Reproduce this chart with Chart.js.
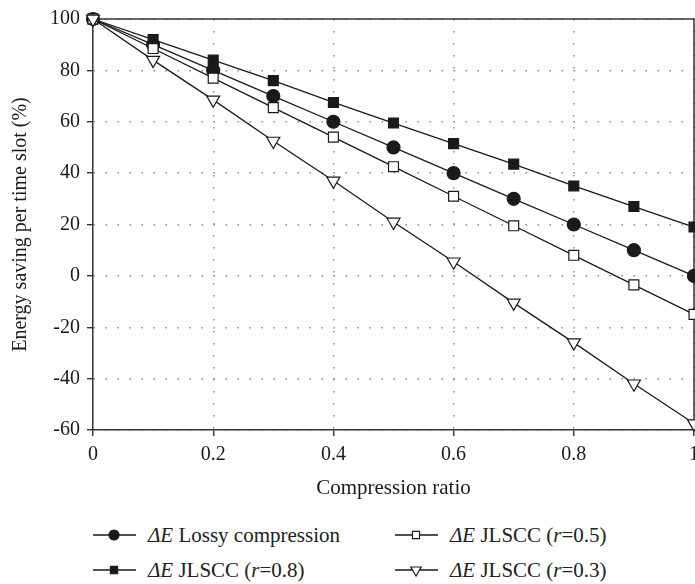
<!DOCTYPE html>
<html>
<head>
<meta charset="utf-8">
<script src="https://cdn.jsdelivr.net/npm/chart.js@4/dist/chart.umd.min.js"></script>
<style>
  html, body { margin: 0; padding: 0; background: #fff; overflow: hidden; }
  #wrap { position: relative; width: 720px; height: 584px; }
  #chart { position: absolute; left: 0; top: 0; }
  .item { position: absolute; display: flex; align-items: center; height: 24px;
          font-family: "Liberation Serif", "DejaVu Serif", serif; font-size: 21px; color: #222; white-space: nowrap; }
  .item canvas { margin-right: 11px; }
</style>
</head>
<body>
<div id="wrap">
  <canvas id="chart" width="720" height="512"></canvas>
</div>
<script>
// Compression ratio on the x axis
const ratios = [0, 0.1, 0.2, 0.3, 0.4, 0.5, 0.6, 0.7, 0.8, 0.9, 1];

// Energy saving per time slot (%)
const lossy = [100, 90, 80, 70, 60, 50, 40, 30, 20, 10, 0];
const jlsccR08 = [100, 92, 84, 76, 67.5, 59.5, 51.5, 43.5, 35, 27, 19];
const jlsccR05 = [100, 88.5, 77, 65.5, 54, 42.5, 31, 19.5, 8, -3.5, -15];
const jlsccR03 = [100, 84, 68.5, 52.5, 37, 21, 5.5, -10.5, -26, -42, -57.5];

const seriesNames = ['Lossy compression', 'JLSCC (r=0.8)', 'JLSCC (r=0.5)', 'JLSCC (r=0.3)'];

const yTicks = [-60, -40, -20, 0, 20, 40, 60, 80, 100];
const xTicks = [0, 0.2, 0.4, 0.6, 0.8, 1];

const SERIF = '"Liberation Serif", "DejaVu Serif", serif';
const INK = '#1a1a1a';

function pts(values) {
  return ratios.map((x, i) => ({ x: x, y: values[i] }));
}

const styles = [
  { pointStyle: 'circle', pointRadius: 6.5, pointBackgroundColor: INK, rotation: 0, legendRadius: 5 },
  { pointStyle: 'rect', pointRadius: 7, pointBackgroundColor: INK, rotation: 0, legendRadius: 5 },
  { pointStyle: 'rect', pointRadius: 7, pointBackgroundColor: '#fff', rotation: 0, legendRadius: 5 },
  { pointStyle: 'triangle', pointRadius: 7.5, pointBackgroundColor: '#fff', rotation: 180, legendRadius: 6 }
];
const seriesValues = [lossy, jlsccR08, jlsccR05, jlsccR03];

const datasets = seriesValues.map((vals, i) => ({
  label: seriesNames[i],
  data: pts(vals),
  borderColor: INK,
  borderWidth: 1.3,
  pointStyle: styles[i].pointStyle,
  pointRadius: styles[i].pointRadius,
  pointHoverRadius: styles[i].pointRadius,
  pointRotation: styles[i].rotation,
  pointBackgroundColor: styles[i].pointBackgroundColor,
  pointBorderColor: INK,
  pointBorderWidth: 1.2,
  clip: false,
  tension: 0,
  order: 3 - i
}));

// frame the plot area on the top and right sides
const framePlugin = {
  id: 'frame',
  beforeDatasetsDraw(chart) {
    const { ctx, chartArea: a } = chart;
    ctx.save();
    ctx.strokeStyle = '#333';
    ctx.lineWidth = 1.5;
    ctx.beginPath();
    ctx.moveTo(a.left, a.top);
    ctx.lineTo(a.right, a.top);
    ctx.lineTo(a.right, a.bottom);
    ctx.stroke();
    ctx.restore();
  }
};

const gridCommon = {
  color: '#8a8a8a',
  lineWidth: 1.4,
  tickColor: '#333',
  tickBorderDash: [],
  tickWidth: 1.4,
  tickLength: 6,
  drawTicks: true
};
// dotted grid lines, solid axis line
const borderCommon = { color: '#333', width: 1.5, dash: [1.5, 10.5] };

const chart = new Chart(document.getElementById('chart'), {
  type: 'line',
  data: { datasets: datasets },
  plugins: [framePlugin],
  options: {
    responsive: false,
    animation: false,
    events: [],
    layout: { padding: { top: 12, right: 26, left: 0, bottom: 0 } },
    plugins: { legend: { display: false }, tooltip: { enabled: false } },
    scales: {
      x: {
        type: 'linear',
        min: 0, max: 1,
        afterBuildTicks(scale) { scale.ticks = xTicks.map(v => ({ value: v })); },
        afterFit(scale) { scale.height = 82; },
        border: borderCommon,
        grid: gridCommon,
        ticks: {
          color: INK, padding: 7,
          font: { family: SERIF, size: 20 },
          callback: v => String(v)
        },
        title: {
          display: true, text: 'Compression ratio', color: INK,
          font: { family: SERIF, size: 21 },
          padding: { top: 0, bottom: 11 }
        }
      },
      y: {
        type: 'linear',
        min: -60, max: 100,
        afterBuildTicks(scale) { scale.ticks = yTicks.map(v => ({ value: v })); },
        afterFit(scale) { scale.width = 93; },
        border: borderCommon,
        grid: gridCommon,
        ticks: {
          color: INK, padding: 7,
          font: { family: SERIF, size: 20 },
          callback: v => String(v)
        },
        title: {
          display: true, text: 'Energy saving per time slot (%)', color: INK,
          font: { family: SERIF, size: 20 },
          padding: { top: 9, bottom: 0 }
        }
      }
    }
  }
});

// legend below the plot, two columns
const legendSlots = [
  { series: 0, left: 93, top: 523 },
  { series: 2, left: 395, top: 523 },
  { series: 1, left: 93, top: 558 },
  { series: 3, left: 395, top: 558 }
];

function labelHtml(name) {
  return '<i>\u0394E</i>&nbsp;' + name.replace(/\(r=/, '(<i>r</i>=');
}

const wrap = document.getElementById('wrap');
legendSlots.forEach(slot => {
  const i = slot.series;
  const div = document.createElement('div');
  div.className = 'item';
  div.style.left = slot.left + 'px';
  div.style.top = slot.top + 'px';
  const c = document.createElement('canvas');
  c.width = 44; c.height = 24;
  const g = c.getContext('2d');
  g.strokeStyle = INK; g.lineWidth = 1.3;
  g.beginPath(); g.moveTo(0, 12); g.lineTo(43, 12); g.stroke();
  g.fillStyle = styles[i].pointBackgroundColor;
  g.lineWidth = 1.2;
  Chart.helpers.drawPoint(g, {
    pointStyle: styles[i].pointStyle,
    radius: styles[i].legendRadius,
    rotation: styles[i].rotation,
    borderWidth: 1.2
  }, 21, 12);
  div.appendChild(c);
  const span = document.createElement('span');
  span.innerHTML = labelHtml(seriesNames[i]);
  div.appendChild(span);
  wrap.appendChild(div);
});
</script>
</body>
</html>
